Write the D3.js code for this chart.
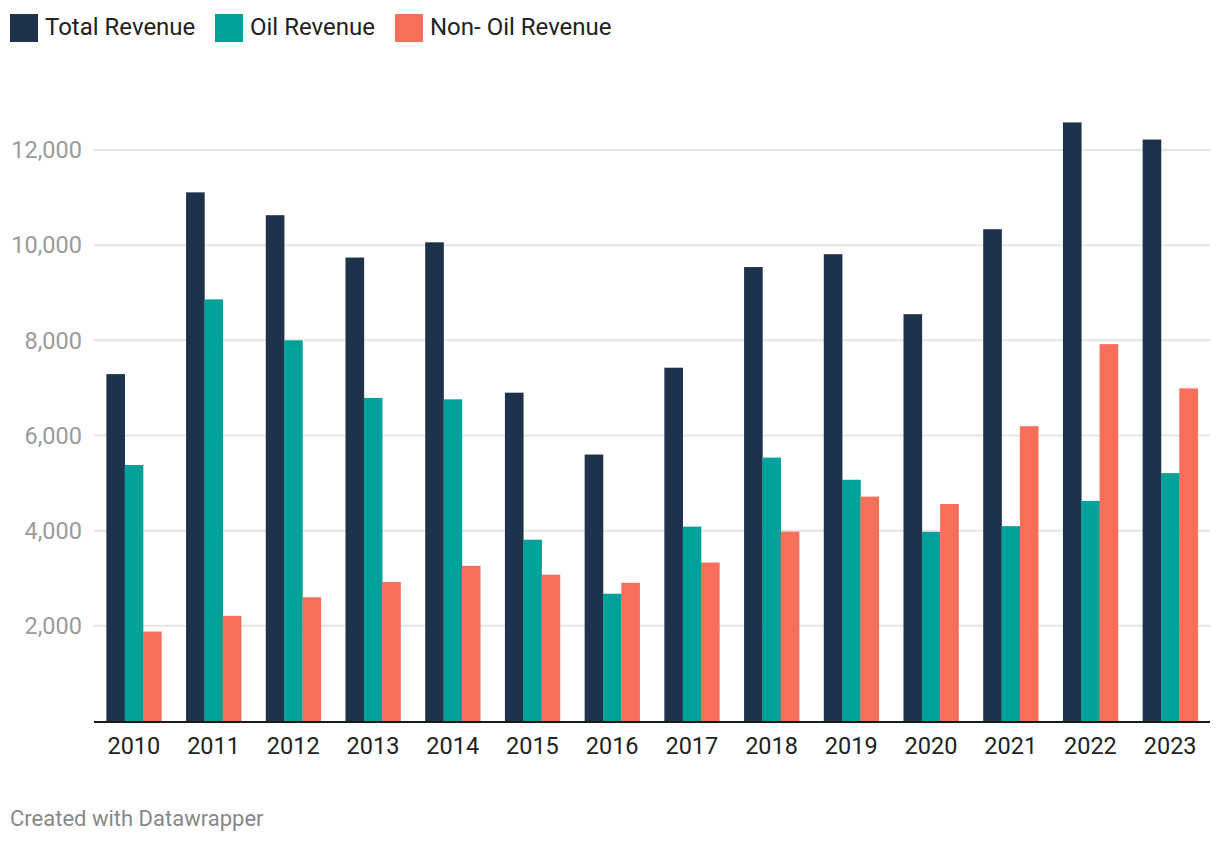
<!DOCTYPE html>
<html>
<head>
<meta charset="utf-8">
<script src="https://cdn.jsdelivr.net/npm/d3@7"></script>
<style>
  html, body { margin: 0; padding: 0; background: #fff; }
  svg { display: block; font-family: Roboto, "Noto Sans", sans-serif; }
</style>
</head>
<body>
<svg id="chart" width="1220" height="844"></svg>
<script>
const years = ["2010","2011","2012","2013","2014","2015","2016","2017","2018","2019","2020","2021","2022","2023"];
const seriesNames = ["Total Revenue", "Oil Revenue", "Non- Oil Revenue"];
const seriesColors = ["#1f324b", "#00a19a", "#f76e5a"];
const totalRevenue = [7290, 11110, 10630, 9740, 10060, 6900, 5600, 7425, 9540, 9810, 8550, 10335, 12580, 12220];
const oilRevenue   = [5380, 8860, 8000, 6790, 6760, 3810, 2675, 4085, 5535, 5070, 3975, 4095, 4625, 5210];
const nonOilRevenue = [1880, 2210, 2600, 2920, 3260, 3075, 2905, 3330, 3980, 4715, 4560, 6195, 7920, 6990];
const yTicks = [2000, 4000, 6000, 8000, 10000, 12000];

const seriesValues = [totalRevenue, oilRevenue, nonOilRevenue];

const svg = d3.select("#chart");

const x0 = d3.scaleBand().domain(years).range([94, 1210]).paddingInner(0.31).paddingOuter(0.155);
const x1 = d3.scaleBand().domain(d3.range(seriesNames.length)).range([0, x0.bandwidth()]).padding(0);
const y = d3.scaleLinear().domain([0, 12000]).range([721, 150]);

// gridlines
svg.append("g")
  .selectAll("line")
  .data(yTicks)
  .join("line")
  .attr("x1", 94).attr("x2", 1210)
  .attr("y1", d => y(d)).attr("y2", d => y(d))
  .attr("stroke", "#e5e5e5").attr("stroke-width", 2);

// y labels
svg.append("g")
  .selectAll("text")
  .data(yTicks)
  .join("text")
  .attr("x", 82)
  .attr("y", d => y(d))
  .attr("dy", "0.35em")
  .attr("text-anchor", "end")
  .attr("fill", "#9b9b9b")
  .attr("font-size", 23.5)
  .text(d => d3.format(",")(d));

// bars
const groups = svg.append("g")
  .selectAll("g")
  .data(years)
  .join("g")
  .attr("transform", d => `translate(${x0(d)},0)`);

groups.selectAll("rect")
  .data((d, i) => seriesValues.map((arr, s) => ({ s, v: arr[i] })))
  .join("rect")
  .attr("x", d => x1(d.s))
  .attr("width", x1.bandwidth() + 0.3)
  .attr("y", d => y(d.v))
  .attr("height", d => y(0) - y(d.v))
  .attr("fill", d => seriesColors[d.s]);

// baseline
svg.append("line")
  .attr("x1", 94).attr("x2", 1210)
  .attr("y1", y(0) + 1).attr("y2", y(0) + 1)
  .attr("stroke", "#1a1a1a").attr("stroke-width", 2);

// x labels
svg.append("g")
  .selectAll("text")
  .data(years)
  .join("text")
  .attr("x", d => x0(d) + x0.bandwidth() / 2)
  .attr("y", 754)
  .attr("text-anchor", "middle")
  .attr("fill", "#222")
  .attr("font-size", 23.5)
  .text(d => d);

// legend
const legendX = [10, 215, 395];
const legend = svg.append("g")
  .selectAll("g")
  .data(seriesNames)
  .join("g")
  .attr("transform", (d, i) => `translate(${legendX[i]},14)`);
legend.append("rect")
  .attr("width", 28).attr("height", 28)
  .attr("fill", (d, i) => seriesColors[i]);
legend.append("text")
  .attr("x", 35).attr("y", 13)
  .attr("dy", "0.35em")
  .attr("fill", "#222")
  .attr("font-size", 24)
  .text(d => d);

// footer
svg.append("text")
  .attr("x", 10).attr("y", 826)
  .attr("fill", "#888")
  .attr("font-size", 22)
  .text("Created with Datawrapper");
</script>
</body>
</html>
